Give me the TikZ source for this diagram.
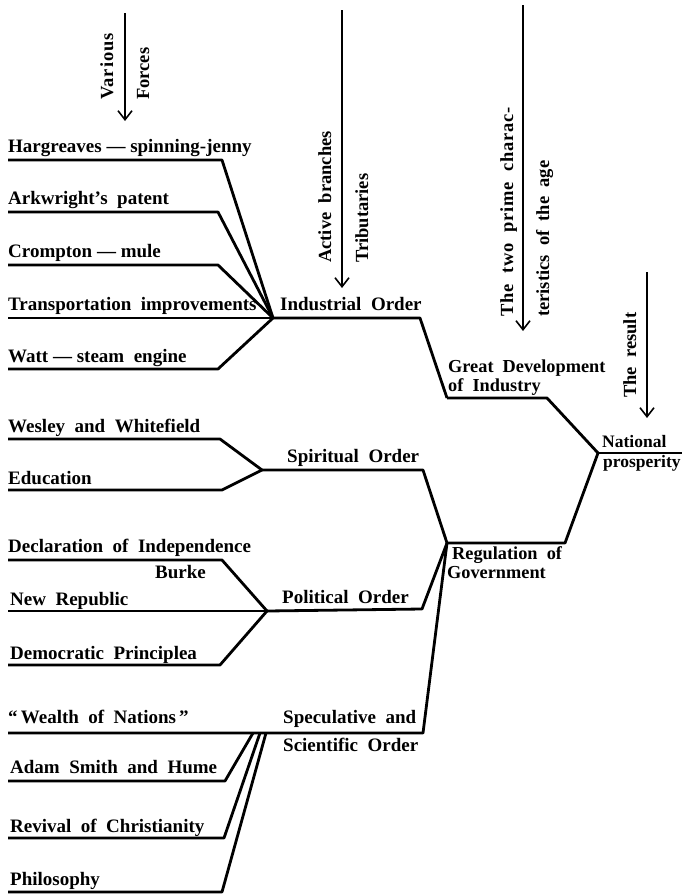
\documentclass[tikz,border=0pt]{standalone}
\usepackage{fontspec}
\setmainfont{Liberation Serif}
\usetikzlibrary{arrows.meta}
\begin{document}
\begin{tikzpicture}[x=1pt,y=-1pt,line join=round,
  branch/.style={line width=2.8pt},
  flowarrow/.style={line width=1.6pt,-{Straight Barb[length=9pt,width=14pt,line width=1.6pt]}},
  lbl/.style={anchor=base west,inner sep=0pt,font=\bfseries\fontsize{19}{19}\selectfont},
  midlbl/.style={anchor=base west,inner sep=0pt,font=\bfseries\fontsize{18.3}{18.3}\selectfont},
  smlbl/.style={anchor=base west,inner sep=0pt,font=\bfseries\fontsize{17.5}{17.5}\selectfont},
  vlbl/.style={anchor=base west,rotate=90,inner sep=0pt,font=\bfseries\fontsize{18.5}{18.5}\selectfont}]
\useasboundingbox (0,0) rectangle (684,894);

% ---------- junction coordinates ----------
\coordinate (I) at (273,318);
\coordinate (G) at (447,398);
\coordinate (N) at (598,453);
\coordinate (S) at (262,470);
\coordinate (R) at (447,543);
\coordinate (P) at (267,611);
\coordinate (Q) at (423,733);

% ---------- top arrows ----------
\coordinate (va) at (125,13);  \coordinate (vb) at (125,121);
\coordinate (aa) at (342,10);  \coordinate (ab) at (342,288);
\coordinate (ta) at (523,5);   \coordinate (tb) at (523,331);
\coordinate (ra) at (647,272); \coordinate (rb) at (647,418);
\draw[flowarrow] (va) -- (vb);
\draw[flowarrow] (aa) -- (ab);
\draw[flowarrow] (ta) -- (tb);
\draw[flowarrow] (ra) -- (rb);

\node[vlbl] (tvar) at (113,100) {\addfontfeature{LetterSpace=5}Various};
\node[vlbl] (tfor) at (149,100) {Forces};
\node[vlbl] (tact) at (331,263) {Active\ \ branches};
\node[vlbl] (ttri) at (368,263) {Tributaries};
\node[vlbl] (ttwo) at (513,317) {\addfontfeature{LetterSpace=4}The\ \ two\ \ prime\ \ charac-};
\node[vlbl] (tter) at (549,317) {teristics\ \ of\ \ the\ \ age};
\node[vlbl] (tres) at (636,398) {The\ \ result};

% ---------- industrial ----------
\coordinate (h1) at (8,160);  \coordinate (h2) at (222,160);
\coordinate (a1) at (8,212);  \coordinate (a2) at (218,212);
\coordinate (c1) at (8,265);  \coordinate (c2) at (218,265);
\coordinate (t1) at (8,318);
\coordinate (w1) at (8,369);  \coordinate (w2) at (218,369);
\coordinate (i2) at (420,318);
\draw[branch] (h1) -- (h2) -- (I);
\draw[branch] (a1) -- (a2) -- (I);
\draw[branch] (c1) -- (c2) -- (I);
\draw[branch] (t1) -- (I);
\draw[branch] (w1) -- (w2) -- (I);
\draw[branch] (I) -- (i2) -- (G);
\coordinate (g2) at (547,398);
\draw[branch] (G) -- (g2) -- (N);
\coordinate (n2) at (682,453);
\draw[branch] (N) -- (n2);

\node[lbl] (lh) at (8,152) {Hargreaves — spinning-jenny};
\node[lbl] (la) at (8,204) {Arkwright's\ \ patent};
\node[lbl] (lc) at (8,257) {Crompton — mule};
\node[lbl] (lt) at (8,310) {Transportation\ \ improvements};
\node[lbl] (lw) at (8,362) {Watt — steam\ \ engine};
\node[lbl] (lio) at (280,310) {Industrial\ \ Order};
\node[midlbl] (lg1) at (448,372) {Great\ \ Development};
\node[midlbl] (lg2) at (448,391) {of\ \ Industry};
\node[smlbl] (ln1) at (602,447) {National};
\node[smlbl] (ln2) at (603,467) {prosperity};

% ---------- spiritual ----------
\coordinate (ws1) at (8,439); \coordinate (ws2) at (220,439);
\coordinate (ed1) at (8,490); \coordinate (ed2) at (222,490);
\coordinate (s2) at (423,470);
\draw[branch] (ws1) -- (ws2) -- (S);
\draw[branch] (ed1) -- (ed2) -- (S);
\draw[branch] (S) -- (s2) -- (R);
\coordinate (r2) at (565,543);
\draw[branch] (R) -- (r2) -- (N);

\node[lbl] (lws) at (8,432) {Wesley\ \ and\ \ Whitefield};
\node[lbl] (led) at (8,484) {Education};
\node[lbl] (lso) at (287,462) {Spiritual\ \ Order};
\node[midlbl] (lr1) at (452,559) {Regulation\ \ of};
\node[midlbl] (lr2) at (447,578) {Government};

% ---------- political ----------
\coordinate (d1) at (8,560);  \coordinate (d2) at (222,560);
\coordinate (nr1) at (8,611);
\coordinate (dp1) at (8,665); \coordinate (dp2) at (220,665);
\coordinate (p2) at (422,609);
\draw[branch] (d1) -- (d2) -- (P);
\draw[branch] (nr1) -- (P);
\draw[branch] (dp1) -- (dp2) -- (P);
\draw[branch] (P) -- (p2) -- (R);

\node[lbl] (ld) at (8,552) {Declaration\ \ of\ \ Independence};
\node[lbl] (lb) at (155,578) {Burke};
\node[lbl] (lnr) at (10,605) {New\ \ Republic};
\node[lbl] (ldp) at (10,659) {Democratic\ \ Principlea};
\node[lbl] (lpo) at (282,603) {Political\ \ Order};

% ---------- speculative ----------
\coordinate (wn1) at (8,733);
\coordinate (am1) at (8,781);  \coordinate (am2) at (225,781); \coordinate (amj) at (253,733);
\coordinate (rv1) at (8,838);  \coordinate (rv2) at (224,838); \coordinate (rvj) at (260,733);
\coordinate (ph1) at (8,892);  \coordinate (ph2) at (222,892); \coordinate (phj) at (266,733);
\draw[branch] (wn1) -- (Q) -- (R);
\draw[branch] (am1) -- (am2) -- (amj);
\draw[branch] (rv1) -- (rv2) -- (rvj);
\draw[branch] (ph1) -- (ph2) -- (phj);

\node[lbl] (lwn) at (8,723) {``\,Wealth\ \ of\ \ Nations\,''};
\node[lbl] (lam) at (10,773) {Adam\ \ Smith\ \ and\ \ Hume};
\node[lbl] (lrv) at (10,832) {Revival\ \ of\ \ Christianity};
\node[lbl] (lph) at (10,885) {Philosophy};
\node[lbl] (lsp1) at (283,723) {Speculative\ \ and};
\node[lbl] (lsp2) at (283,751) {Scientific\ \ Order};
\end{tikzpicture}
\end{document}
